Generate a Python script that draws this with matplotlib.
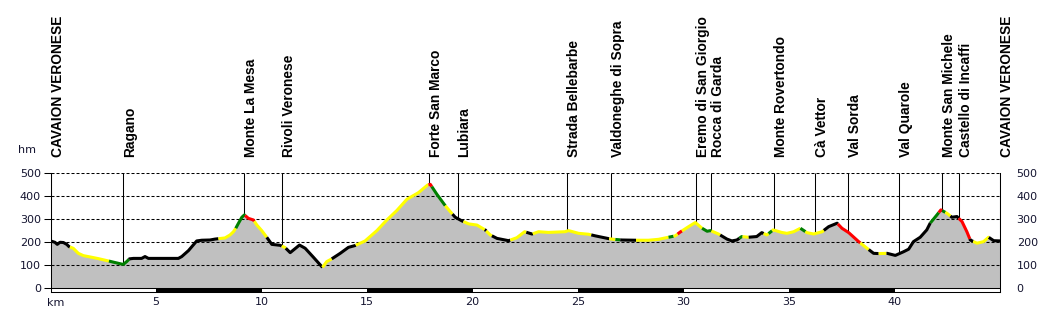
import numpy as np
import matplotlib
matplotlib.use("Agg")
import matplotlib.pyplot as plt
from matplotlib.patches import Rectangle

# ---------------- data ----------------
km = [0.0, 0.21, 0.32, 0.45, 0.61, 0.77, 0.88, 1.08, 1.32, 1.56, 1.95, 2.27, 2.74, 3.06,
      3.34, 3.45, 3.61, 3.74, 3.93, 4.32, 4.48, 4.64, 6.06, 6.22, 6.54, 6.93, 7.17, 7.56,
      7.8, 8.27, 8.51, 8.67, 8.78, 8.91, 9.07, 9.19, 9.38, 9.62, 9.78, 10.01, 10.2, 10.49,
      10.88, 11.12, 11.36, 11.8, 12.07, 12.46, 12.89, 13.09, 13.33, 13.73, 14.12, 14.44,
      14.91, 15.47, 15.94, 16.41, 16.89, 17.44, 17.87, 18.0, 18.31, 18.71, 18.95, 19.18,
      19.5, 19.82, 20.21, 20.6, 20.84, 21.16, 21.71, 22.1, 22.47, 22.82, 23.13, 23.6,
      24.39, 24.55, 25.03, 25.5, 25.82, 26.45, 26.69, 27.08, 27.71, 28.34, 28.82, 29.29,
      29.61, 29.85, 30.24, 30.56, 30.88, 31.12, 31.28, 31.66, 32.06, 32.29, 32.53, 32.76,
      33.08, 33.47, 33.71, 33.95, 34.25, 34.65, 34.9, 35.22, 35.54, 35.85, 36.17, 36.57,
      36.88, 37.28, 37.51, 37.83, 38.3, 38.7, 39.01, 39.25, 39.65, 40.04, 40.43, 40.67,
      40.9, 41.22, 41.53, 41.69, 42.01, 42.2, 42.49, 42.72, 42.96, 43.2, 43.43, 43.59,
      43.91, 44.22, 44.46, 44.7, 45.0]
elev = [206, 200, 191, 200, 199, 191, 181, 174, 152, 142, 135, 129, 119, 112,
        106, 104, 116, 128, 130, 130, 138, 130, 130, 138, 164, 206, 209, 210,
        214, 219, 232, 246, 261, 283, 309, 319, 304, 297, 275, 251, 228, 191,
        187, 177, 155, 188, 174, 135, 91, 116, 128, 152, 178, 186,
        206, 251, 297, 338, 387, 416, 449, 452, 409, 359, 333, 309,
        293, 280, 275, 254, 232, 217, 207, 220, 246, 236, 246, 243,
        246, 251, 239, 235, 228, 216, 213, 210, 209, 209, 213, 222,
        228, 245, 268, 286, 261, 248, 251, 236, 214, 206, 210, 225,
        222, 225, 242, 232, 254, 243, 239, 246, 261, 242, 236, 246,
        268, 283, 261, 242, 203, 174, 152, 151, 152, 143, 159, 170,
        203, 222, 254, 283, 319, 341, 326, 309, 312, 290, 246, 210,
        196, 203, 222, 207, 206]

# slope-class colour changes along the route (start km of each stretch)
seg_start = [0.0, 0.92, 2.77, 3.72, 7.96, 8.78, 9.22, 9.66, 10.25, 10.96, 11.15, 12.89,
             13.33, 14.47, 17.91, 18.07, 18.71, 19.05, 19.57, 20.58, 20.65, 20.92, 21.79,
             22.55, 22.86, 25.63, 26.48, 26.77, 27.0, 27.75, 29.29, 29.53, 29.72, 29.93,
             30.88, 31.32, 31.74, 32.65, 32.8, 33.09, 33.8, 34.03, 34.2, 35.54, 35.78,
             36.65, 37.31, 38.38, 38.78, 39.25, 39.62, 41.7, 42.1, 42.26, 42.41, 42.65,
             43.04, 43.57, 43.73, 44.47]
seg_class = ['K', 'Y', 'G', 'K', 'Y', 'G', 'R', 'Y', 'K', 'Y', 'K', 'Y',
             'K', 'Y', 'R', 'G', 'Y', 'K', 'Y', 'K', 'Y', 'K', 'Y',
             'K', 'Y', 'K', 'Y', 'G', 'K', 'Y', 'G', 'Y', 'R', 'Y',
             'G', 'Y', 'K', 'G', 'Y', 'K', 'Y', 'G', 'Y', 'G', 'Y',
             'K', 'R', 'Y', 'K', 'Y', 'K', 'G', 'R', 'G', 'Y', 'K',
             'R', 'K', 'Y', 'K']

stations = ['CAVAION VERONESE', 'Ragano', 'Monte La Mesa', 'Rivoli Veronese',
            'Forte San Marco', 'Lubiara', 'Strada Bellebarbe', 'Valdoneghe di Sopra',
            'Eremo di San Giorgio', 'Rocca di Garda', 'Monte Rovertondo', 'Cà Vettor',
            'Val Sorda', 'Val Quarole', 'Monte San Michele', 'Castello di Incaffi',
            'CAVAION VERONESE']
station_km = [0.0, 3.45, 9.19, 10.99, 17.96, 19.29, 24.46, 26.56, 30.59, 31.32,
              34.27, 36.22, 37.80, 40.2, 42.26, 43.05, 45.0]

y_ticks = [0, 100, 200, 300, 400, 500]
x_ticks = [5, 10, 15, 20, 25, 30, 35, 40]

class_colors = {'K': '#000000', 'Y': '#ffff00', 'G': '#008000', 'R': '#ff0000'}

# ---------------- figure ----------------
W, H = 1050, 313
fig = plt.figure(figsize=(W / 100, H / 100), dpi=100)
px_left, px_right, px_top, px_bottom = 50.5, 1000.0, 173.3, 292.0
ax = fig.add_axes([px_left / W, (H - px_bottom) / H,
                   (px_right - px_left) / W, (px_bottom - px_top) / H])
km_a = np.array(km)
el_a = np.array(elev, dtype=float)
xmax = km_a[-1]
ymax = 500
ybot = -(px_bottom - 288.3) / ((px_bottom - px_top)) * (ymax + (px_bottom - 288.3) / 0.2296 * 0) 
ybot = -16.1
ax.set_xlim(0, xmax)
ax.set_ylim(ybot, ymax)

# fill
ax.fill_between(km_a, 0, el_a, color='#c0c0c0', lw=0, zorder=1)

# dashed horizontal lines
for yv in y_ticks[1:]:
    ax.axhline(yv, color='black', lw=0.75, ls=(0, (2.9, 1.9)), zorder=2)

# station vertical lines
for skm in station_km:
    ytop = np.interp(skm, km_a, el_a)
    ax.plot([skm, skm], [ytop, ymax], color='black', lw=0.75, zorder=2,
            solid_capstyle='butt')

# profile line coloured by class
seg_end = seg_start[1:] + [xmax]
for a, b, c in zip(seg_start, seg_end, seg_class):
    mask = (km_a > a) & (km_a < b)
    xs = np.concatenate([[a], km_a[mask], [b]])
    ys = np.interp(xs, km_a, el_a)
    ax.plot(xs, ys, color=class_colors[c], lw=2.2, zorder=4,
            solid_capstyle='butt', solid_joinstyle='round')

# scale bar under the profile
step = x_ticks[1] - x_ticks[0]
for i, x0 in enumerate(np.arange(0, xmax, step)):
    if i % 2 == 1:
        ax.add_patch(Rectangle((x0, ybot), min(step, xmax - x0), -ybot,
                               facecolor='black', edgecolor='none', zorder=3))
ax.axhline(0, color='black', lw=0.75, zorder=3)

# station labels
for name, skm in zip(stations, station_km):
    ax.text(skm, 571, name, rotation=90, ha='left', va='bottom',
            fontsize=9.9, fontweight='bold', family=['Liberation Sans', 'DejaVu Sans'],
            color='black', clip_on=False)

# axes styling
for s in ['top']:
    ax.spines[s].set_visible(False)
for s in ['left', 'right', 'bottom']:
    ax.spines[s].set_linewidth(0.75)
    ax.spines[s].set_color('black')
tick_color = '#141430'
ax.set_yticks(y_ticks)
ax.set_yticklabels([str(v) for v in y_ticks])
ax.tick_params(axis='y', left=True, right=False, length=5, width=0.75,
               pad=2, labelsize=8, labelcolor=tick_color, color='black')
ax.set_xticks(x_ticks)
ax.set_xticklabels([str(v) for v in x_ticks])
ax.tick_params(axis='x', length=0, pad=3.5, labelsize=8, labelcolor=tick_color)

ax2 = ax.twinx()
ax2.set_ylim(ax.get_ylim())
ax2.set_yticks(y_ticks)
ax2.set_yticklabels([str(v) for v in y_ticks])
ax2.tick_params(axis='y', length=0, pad=12, labelsize=8, labelcolor=tick_color)
for s in ax2.spines.values():
    s.set_visible(False)

fig.text(18 / W, 1 - 150 / H, 'hm', ha='left', va='center', fontsize=8, color=tick_color)
fig.text(47 / W, 1 - 303 / H, 'km', ha='left', va='center', fontsize=8, color=tick_color)

fig.savefig('out.png', dpi=100)
